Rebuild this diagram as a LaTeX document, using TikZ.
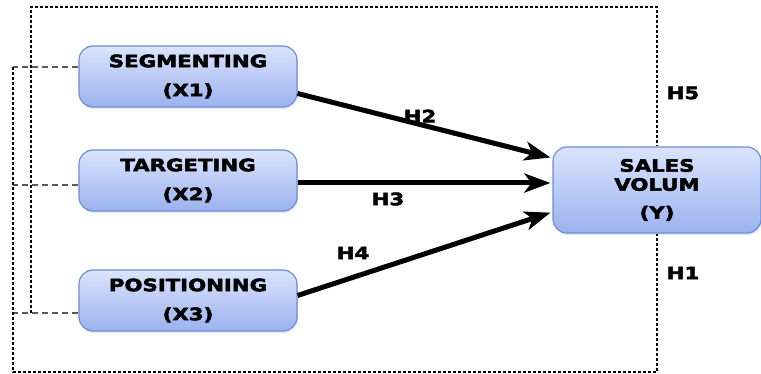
\documentclass[tikz,border=0pt]{standalone}
\usepackage{fontspec}
\newfontfamily\diagfont[FakeStretch=1.25, BoldFeatures={FakeBold=3}]{DejaVu Sans}
\usetikzlibrary{arrows.meta,shadows}
\definecolor{boxtop}{HTML}{DAE4FD}
\definecolor{boxbot}{HTML}{9BB2EE}
\definecolor{boxline}{HTML}{6A8DD8}

\begin{document}
\begin{tikzpicture}[x=1pt, y=-1pt,
varbox/.style={draw=boxline, line width=1.2pt, rounded corners=14pt, top color=boxtop, bottom color=boxbot,
	align=center, inner sep=0pt, font=\diagfont\bfseries\fontsize{17}{19}\selectfont,
	drop shadow={opacity=0.2, shadow xshift=1pt, shadow yshift=-2pt}},
hlabel/.style={font=\diagfont\bfseries\fontsize{17}{18}\selectfont},
hyparrow/.style={line width=5pt, -{Stealth[length=26pt, width=19pt, inset=7pt]}, shorten >=2pt},
boxlink/.style={draw=black!65, line width=1.4pt, dash pattern=on 6pt off 4pt},
loopline/.style={line width=1.6pt, dash pattern=on 3pt off 2pt},]
	\useasboundingbox (0,0) rectangle (761,374);
	\node[varbox, minimum width=218pt, minimum height=61pt] (seg) at (188,76.5) {SEGMENTING\\[10pt](X1)};
	\node[varbox, minimum width=218pt, minimum height=61pt] (tar) at (188,180.5) {TARGETING\\[10pt](X2)};
	\node[varbox, minimum width=218pt, minimum height=61pt] (pos) at (188,300.5) {POSITIONING\\[10pt](X3)};
	\node[varbox, minimum width=208pt, minimum height=86pt] (sales) at (657,190) {SALES\\VOLUM\\[9pt](Y)};
	
	\coordinate (o1) at (13,67);
	\coordinate (o2) at (13,372);
	\coordinate (t1) at (13,185);
	\coordinate (p1) at (13,313);
	\coordinate (i1) at (31,313);
	\coordinate (i2) at (31,7);
	
	\draw[boxlink] (seg.west |- o1) -- (o1);
	\draw[boxlink] (tar.west |- t1) -- (t1);
	\draw[boxlink] (pos.west |- p1) -- (p1);
	\draw[loopline] (o1) -- (o2) -| (sales.south);
	\draw[loopline] (i1) -- (i2) -| (sales.north);
	
	\draw[hyparrow] ([yshift=-17pt]seg.east) -- ([yshift=32pt]sales.west);
	\draw[hyparrow] ([yshift=-2.5pt]tar.east) -- ([yshift=7pt]sales.west);
	\draw[hyparrow] ([yshift=5pt]pos.east) -- ([yshift=-22pt]sales.west);
	
	\node[hlabel] (h2) at (420,116) {H2};
	\node[hlabel] (h3) at (388,199) {H3};
	\node[hlabel] (h4) at (353,253) {H4};
	\node[hlabel] (h5) at (683,93) {H5};
	\node[hlabel] (h1) at (683,273) {H1};
\end{tikzpicture}
\end{document}
